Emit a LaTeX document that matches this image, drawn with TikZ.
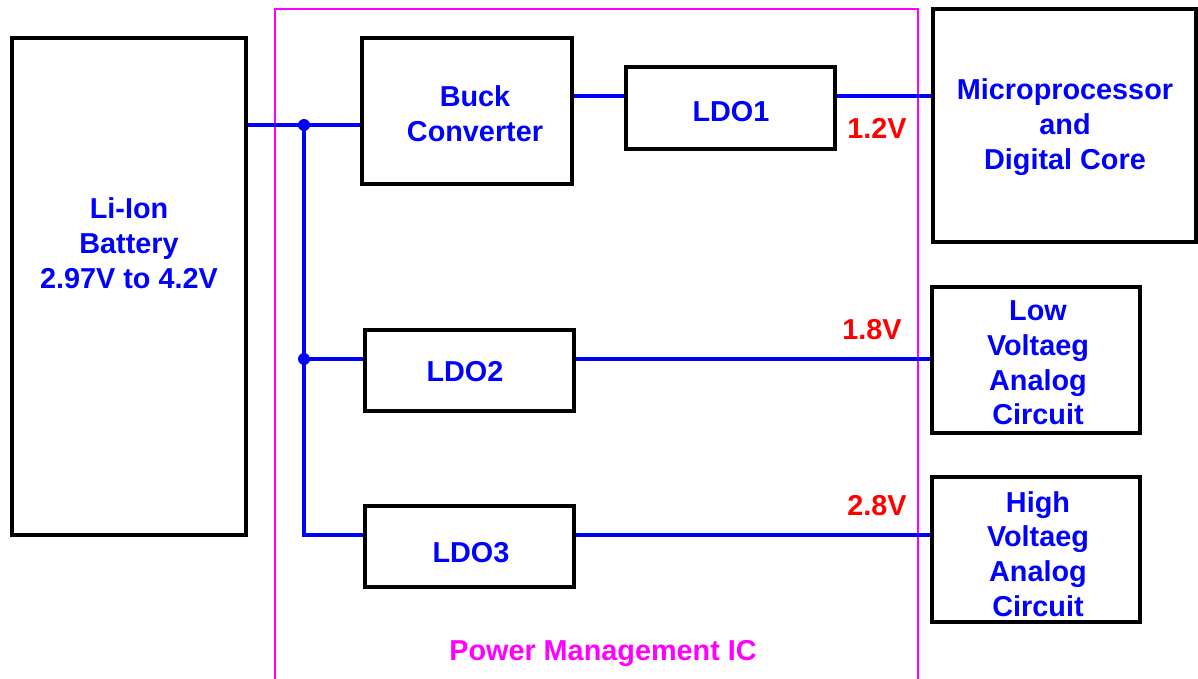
\documentclass[tikz,border=0pt]{standalone}
\usepackage{fontspec}
\setmainfont{Liberation Sans}
\usetikzlibrary{fit}
\definecolor{myblue}{RGB}{0,0,255}
\definecolor{myred}{RGB}{255,0,0}
\definecolor{mymag}{RGB}{255,0,255}
\begin{document}
\begin{tikzpicture}[x=0.02cm,y=-0.02cm,
  box/.style={draw=black,line width=2.3pt,inner sep=0pt},
  txt/.style={font=\fontsize{16.4}{19.8}\selectfont\bfseries,text=myblue,align=center},
  wire/.style={draw=myblue,line width=2.2pt},
  volt/.style={font=\fontsize{16.4}{19.8}\selectfont\bfseries,text=myred},
  dot/.style={circle,fill=myblue,inner sep=0pt,minimum size=0.24cm}]
\useasboundingbox (0,0) rectangle (1198,679);
% PMIC outline
\draw[mymag,line width=1.1pt] (275,690) -- (275,9) -- (918,9) -- (918,690);
\node[font=\fontsize{16.4}{19.8}\selectfont\bfseries,text=mymag] (pmic) at (603,653) {Power Management IC};
% boxes
\node[box,fit={(12,38)(246,535)}] (bat) {};
\node[box,fit={(362,38)(572,184)}] (buck) {};
\node[box,fit={(626,67)(835,149)}] (ldo1) {};
\node[box,fit={(933,9)(1196,242)}] (mpu) {};
\node[box,fit={(365,330)(574,411)}] (ldo2) {};
\node[box,fit={(365,506)(574,587)}] (ldo3) {};
\node[box,fit={(932,287)(1140,433)}] (lv) {};
\node[box,fit={(932,477)(1140,622)}] (hv) {};
% texts
\node[txt] (battxt) at (129,243) {Li-Ion\\Battery\\2.97V to 4.2V};
\node[txt] (bucktxt) at (475,114) {Buck\\Converter};
\node[txt] (ldo1txt) at (731,112) {LDO1};
\node[txt] (mputxt) at (1065,127) {Microprocessor\\and\\Digital Core};
\node[txt] (ldo2txt) at (465,372) {LDO2};
\node[txt] (ldo3txt) at (471,553) {LDO3};
\node[txt] (lvtxt) at (1038,363) {Low\\Voltaeg\\Analog\\Circuit};
\node[txt] (hvtxt) at (1038,554) {High\\Voltaeg\\Analog\\Circuit};
% wire levels
\coordinate (j1) at (304,125);
\coordinate (j2) at (304,359);
\coordinate (j3) at (304,535);
\coordinate (ya) at (600,96);
% wires
\draw[wire] (bat.east |- j1) -- (buck.west |- j1);
\draw[wire,line join=miter] (j1) -- (j3) -- (ldo3.west |- j3);
\draw[wire] (j2) -- (ldo2.west |- j2);
\draw[wire] (buck.east |- ya) -- (ldo1.west |- ya);
\draw[wire] (ldo1.east |- ya) -- (mpu.west |- ya);
\draw[wire] (ldo2.east |- j2) -- (lv.west |- j2);
\draw[wire] (ldo3.east |- j3) -- (hv.west |- j3);
\node[dot] (d1) at (j1) {};
\node[dot] (d2) at (j2) {};
% voltage labels
\node[volt] (v1) at (877,128) {1.2V};
\node[volt] (v2) at (872,330) {1.8V};
\node[volt] (v3) at (877,506) {2.8V};
\end{tikzpicture}
\end{document}
